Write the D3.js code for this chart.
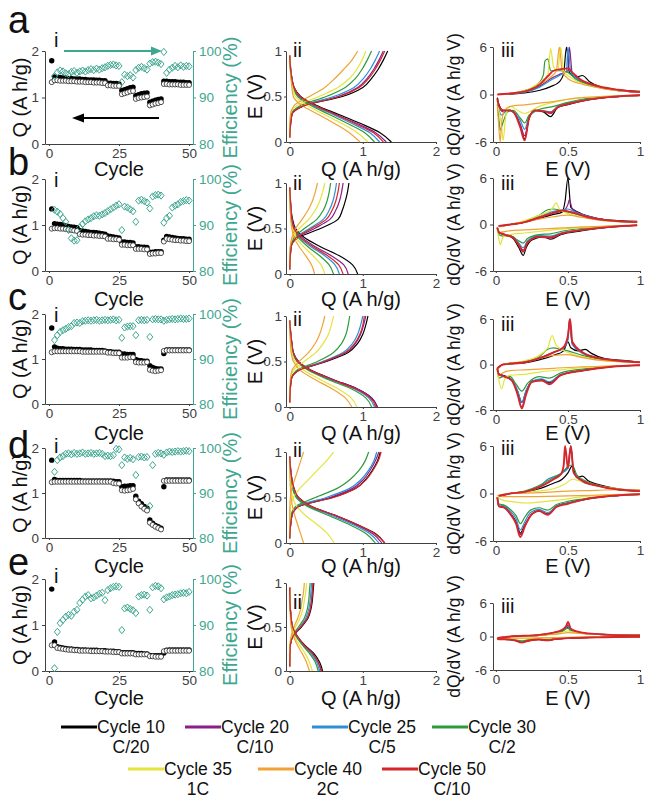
<!DOCTYPE html>
<html><head><meta charset="utf-8">
<script src="https://cdn.jsdelivr.net/npm/d3@7"></script>
<style>body{margin:0;background:#fff}svg{display:block}</style>
</head><body><svg id="c" width="646" height="800"></svg>
<script>
// ---------- DATA ----------
const cycleTicks = [0, 25, 50];
const capTicks = [0, 1, 2];
const effTicks = [80, 90, 100];
const qTicks = [0, 1, 2];
const eTicks = [0, 0.5, 1];
const dqTicks = [-6, 0, 6];
const legendCycles = ["Cycle 10","Cycle 20","Cycle 25","Cycle 30","Cycle 35","Cycle 40","Cycle 50"];
const legendRates = ["C/20","C/10","C/5","C/2","1C","2C","C/10"];

// panel i (cycles 1..50): discharge (filled), charge (open), efficiency (%)
const capDisA = [1.79,1.44,1.43,1.43,1.42,1.42,1.41,1.41,1.40,1.40,1.40,1.39,1.39,1.38,1.38,1.38,1.37,1.37,1.36,1.36,1.31,1.31,1.30,1.30,1.29,1.15,1.17,1.19,1.21,1.22,1.04,1.06,1.08,1.09,1.10,0.90,0.92,0.94,0.96,0.97,1.35,1.35,1.34,1.34,1.34,1.33,1.33,1.33,1.32,1.32];
const capChgA = [1.33,1.37,1.37,1.36,1.36,1.36,1.35,1.35,1.35,1.34,1.34,1.34,1.33,1.33,1.33,1.32,1.32,1.32,1.31,1.31,1.26,1.26,1.25,1.25,1.25,1.07,1.09,1.11,1.13,1.14,0.97,0.99,1.00,1.01,1.02,0.83,0.85,0.87,0.88,0.90,1.29,1.29,1.28,1.28,1.28,1.28,1.27,1.27,1.27,1.27];
const effA = [null,94.6,95.4,95.8,95.6,95.2,95.0,95.5,95.7,95.3,95.6,95.8,95.6,95.9,96.1,95.9,96.2,96.0,96.3,96.5,96.8,97.0,97.1,96.9,96.8,93.3,94.9,94.6,94.8,94.3,95.9,96.4,96.6,96.3,96.0,97.3,97.6,97.7,97.5,97.2,99.8,95.3,96.0,96.4,96.8,96.5,96.9,96.6,96.8,96.7];

const capDisB = [1.35,1.03,1.02,1.01,1.00,0.98,0.97,0.96,0.95,0.94,0.88,0.87,0.86,0.85,0.84,0.84,0.83,0.82,0.81,0.80,0.76,0.75,0.74,0.73,0.72,0.63,0.63,0.62,0.62,0.61,0.53,0.53,0.52,0.52,0.51,0.41,0.41,0.42,0.42,0.42,0.67,0.75,0.74,0.73,0.72,0.71,0.70,0.70,0.69,0.69];
const capChgB = [0.92,0.93,0.93,0.92,0.92,0.91,0.90,0.89,0.88,0.87,0.80,0.79,0.79,0.78,0.78,0.77,0.77,0.76,0.76,0.75,0.70,0.70,0.69,0.69,0.68,0.57,0.57,0.56,0.56,0.56,0.48,0.48,0.48,0.47,0.47,0.37,0.38,0.38,0.39,0.39,0.64,0.70,0.69,0.68,0.67,0.67,0.66,0.66,0.65,0.65];
const effB = [null,93.3,92.9,92.4,91.5,90.7,88.9,87.1,86.6,86.7,89.5,90.2,90.8,91.2,91.5,91.9,92.1,92.0,92.3,92.6,93.0,93.4,93.8,94.2,94.5,88.9,94.0,93.8,93.4,93.0,90.7,95.3,95.5,95.2,94.9,93.6,96.2,96.5,96.6,96.4,90.5,91.5,92.0,93.8,94.2,94.5,95.0,95.2,95.4,95.3];

const capDisC = [1.69,1.27,1.24,1.23,1.23,1.22,1.22,1.22,1.21,1.21,1.21,1.20,1.20,1.20,1.20,1.19,1.19,1.19,1.19,1.18,1.16,1.16,1.15,1.15,1.15,1.11,1.11,1.10,1.10,1.10,0.99,0.97,0.96,0.95,0.95,0.85,0.81,0.79,0.78,0.78,1.12,1.20,1.20,1.20,1.20,1.20,1.20,1.20,1.20,1.20];
const capChgC = [1.15,1.17,1.17,1.17,1.17,1.17,1.17,1.17,1.17,1.17,1.17,1.16,1.16,1.16,1.16,1.16,1.16,1.16,1.16,1.16,1.14,1.14,1.13,1.13,1.13,1.03,1.03,1.03,1.04,1.04,0.93,0.92,0.92,0.92,0.93,0.76,0.74,0.73,0.74,0.75,1.18,1.19,1.19,1.19,1.19,1.19,1.19,1.19,1.19,1.19];
const effC = [null,94.2,95.3,96.0,96.4,96.7,97.1,97.3,98.0,98.1,98.0,98.4,98.5,98.6,98.5,98.6,98.7,98.5,98.6,98.7,98.6,98.7,98.8,98.6,98.7,94.7,97.0,97.2,97.3,97.3,95.3,98.6,98.7,98.6,98.7,94.9,98.8,98.9,98.8,98.8,98.5,98.7,98.8,98.9,98.8,98.9,99.0,98.9,98.9,99.0];

const capDisD = [1.73,1.30,1.28,1.28,1.28,1.28,1.28,1.28,1.28,1.28,1.28,1.27,1.27,1.27,1.27,1.27,1.27,1.27,1.27,1.27,1.27,1.27,1.26,1.25,1.25,1.14,1.15,1.15,1.16,1.16,0.93,0.82,0.76,0.70,0.66,0.40,0.33,0.28,0.25,0.22,1.14,1.29,1.29,1.29,1.29,1.29,1.29,1.29,1.29,1.29];
const capChgD = [1.24,1.25,1.25,1.25,1.25,1.25,1.25,1.25,1.25,1.25,1.25,1.25,1.25,1.25,1.25,1.25,1.25,1.25,1.25,1.25,1.25,1.25,1.22,1.21,1.21,1.06,1.05,1.06,1.07,1.09,0.86,0.77,0.70,0.65,0.61,0.34,0.29,0.25,0.22,0.19,1.27,1.27,1.27,1.27,1.27,1.27,1.27,1.27,1.27,1.27];
const effD = [null,94.7,97.3,97.9,98.2,98.7,98.8,98.6,98.9,98.7,98.8,99.0,98.7,98.8,98.9,98.7,98.8,98.9,98.7,98.2,98.3,98.2,98.4,99.8,99.7,96.2,97.9,97.6,97.8,97.5,94.0,98.0,98.1,97.9,98.0,87.1,96.2,98.7,98.9,98.8,98.5,99.0,99.2,99.1,99.2,99.3,99.2,99.3,99.4,99.3];

const capDisE = [1.78,0.63,0.53,0.51,0.50,0.49,0.48,0.48,0.47,0.47,0.46,0.46,0.46,0.45,0.45,0.45,0.45,0.44,0.44,0.44,0.43,0.43,0.43,0.42,0.42,0.40,0.40,0.40,0.40,0.40,0.38,0.38,0.38,0.37,0.37,0.34,0.33,0.33,0.33,0.33,0.39,0.45,0.46,0.46,0.46,0.46,0.46,0.46,0.46,0.46];
const capChgE = [0.56,0.56,0.50,0.49,0.48,0.47,0.46,0.46,0.45,0.45,0.44,0.44,0.44,0.44,0.43,0.43,0.43,0.43,0.43,0.42,0.42,0.42,0.41,0.41,0.41,0.38,0.38,0.38,0.38,0.38,0.36,0.36,0.36,0.36,0.36,0.32,0.32,0.31,0.31,0.31,0.43,0.44,0.44,0.44,0.44,0.44,0.44,0.44,0.44,0.44];
const effE = [null,80.6,88.5,90.4,91.1,91.8,92.2,92.0,92.9,93.3,94.8,95.5,96.2,96.5,95.8,96.0,96.4,96.8,97.0,95.4,97.6,98.0,98.3,98.4,98.3,88.9,93.6,93.8,93.5,93.2,92.6,96.2,96.5,96.6,96.4,93.3,98.2,98.5,98.4,98.0,95.6,96.0,96.2,96.5,96.6,96.7,96.9,97.0,96.9,97.2];

// panel ii: Q (A h/g) at given potential levels, per cycle (10,20,25,30,35,40,50)
const disLevels = [0.95,0.7,0.6,0.5,0.4,0.3,0.2,0.1,0];
const chgLevels = [0.05,0.3,0.4,0.5,0.6,0.7,0.8,0.9,1.0];
const vqDisA = [[0,0.03,0.06,0.15,0.37,0.68,0.98,1.24,1.39],[0,0.03,0.06,0.14,0.35,0.64,0.93,1.18,1.32],[0,0.03,0.05,0.12,0.32,0.6,0.86,1.1,1.23],[0,0.02,0.05,0.11,0.29,0.55,0.8,1.03,1.16],[0,0.02,0.04,0.08,0.24,0.48,0.72,0.93,1.07],[0,0.02,0.03,0.05,0.17,0.4,0.62,0.82,0.96],[0,0.03,0.06,0.14,0.35,0.63,0.9,1.15,1.28]];
const vqChgA = [[0,0.03,0.2,0.72,1.0,1.12,1.21,1.28,1.34],[0,0.03,0.2,0.66,0.93,1.06,1.15,1.22,1.28],[0,0.02,0.18,0.6,0.88,1.01,1.1,1.17,1.23],[0,0.02,0.15,0.5,0.76,0.9,0.99,1.06,1.12],[0,0.01,0.1,0.4,0.66,0.82,0.92,0.99,1.04],[0,0.01,0.06,0.27,0.48,0.62,0.74,0.85,0.93],[0,0.03,0.2,0.68,0.95,1.08,1.17,1.24,1.30]];
const vqDisB = [[0,0.02,0.04,0.08,0.2,0.42,0.68,0.86,0.93],[0,0.02,0.03,0.07,0.17,0.35,0.57,0.74,0.80],[0,0.02,0.03,0.06,0.14,0.29,0.48,0.62,0.68],[0,0.01,0.02,0.05,0.12,0.25,0.41,0.54,0.60],[0,0.01,0.02,0.04,0.09,0.19,0.32,0.43,0.48],[0,0.01,0.015,0.03,0.06,0.13,0.22,0.3,0.34],[0,0.02,0.03,0.06,0.15,0.32,0.52,0.67,0.73]];
const vqChgB = [[0,0.02,0.12,0.42,0.66,0.72,0.76,0.79,0.81],[0,0.02,0.1,0.34,0.55,0.63,0.68,0.71,0.73],[0,0.02,0.08,0.27,0.46,0.54,0.59,0.62,0.64],[0,0.01,0.06,0.2,0.37,0.46,0.51,0.54,0.56],[0,0.01,0.04,0.13,0.26,0.35,0.41,0.45,0.48],[0,0.01,0.03,0.08,0.17,0.25,0.31,0.35,0.38],[0,0.02,0.09,0.3,0.5,0.58,0.63,0.66,0.68]];
const vqDisC = [[0,0.03,0.05,0.12,0.3,0.6,0.92,1.12,1.2],[0,0.03,0.05,0.12,0.3,0.6,0.92,1.12,1.2],[0,0.03,0.05,0.11,0.28,0.56,0.88,1.08,1.16],[0,0.02,0.04,0.1,0.26,0.53,0.84,1.04,1.12],[0,0.02,0.03,0.07,0.2,0.42,0.66,0.84,0.92],[0,0.01,0.02,0.05,0.15,0.35,0.58,0.76,0.85],[0,0.03,0.05,0.11,0.29,0.58,0.9,1.1,1.18]];
const vqChgC = [[0,0.02,0.12,0.5,0.8,0.93,1.0,1.04,1.07],[0,0.02,0.12,0.48,0.77,0.9,0.97,1.01,1.04],[0,0.02,0.11,0.45,0.73,0.86,0.93,0.97,1.0],[0,0.02,0.09,0.38,0.6,0.71,0.77,0.8,0.82],[0,0.01,0.05,0.2,0.36,0.46,0.53,0.57,0.6],[0,0.01,0.03,0.13,0.26,0.35,0.41,0.45,0.48],[0,0.02,0.12,0.47,0.76,0.89,0.96,1.0,1.02]];
const vqDisD = [[0,0.03,0.06,0.12,0.3,0.64,0.93,1.18,1.30],[0,0.03,0.05,0.11,0.29,0.62,0.9,1.14,1.26],[0,0.03,0.05,0.1,0.27,0.58,0.87,1.1,1.22],[0,0.02,0.04,0.09,0.25,0.54,0.82,1.05,1.17],[0,0.01,0.02,0.04,0.1,0.22,0.38,0.52,0.61],[0,0.005,0.01,0.02,0.04,0.07,0.11,0.15,0.19],[0,0.03,0.06,0.12,0.3,0.64,0.93,1.17,1.30]];
const vqChgD = [[0,0.03,0.12,0.58,0.9,1.04,1.13,1.2,1.24],[0,0.03,0.11,0.55,0.86,1.01,1.1,1.17,1.22],[0,0.03,0.1,0.5,0.82,0.98,1.08,1.15,1.19],[0,0.02,0.08,0.35,0.65,0.83,0.95,1.03,1.08],[0,0.005,0.01,0.05,0.14,0.26,0.38,0.5,0.6],[0,0.001,0.003,0.01,0.03,0.07,0.11,0.15,0.19],[0,0.03,0.12,0.6,0.9,1.05,1.14,1.21,1.25]];
const vqDisE = [[0,0.01,0.02,0.04,0.1,0.2,0.33,0.41,0.45],[0,0.01,0.02,0.04,0.1,0.19,0.31,0.39,0.43],[0,0.01,0.02,0.04,0.09,0.18,0.29,0.37,0.41],[0,0.01,0.02,0.03,0.08,0.17,0.27,0.35,0.39],[0,0.01,0.015,0.03,0.06,0.13,0.21,0.27,0.31],[0,0.005,0.01,0.02,0.05,0.1,0.17,0.23,0.27],[0,0.01,0.02,0.04,0.1,0.19,0.31,0.39,0.44]];
const vqChgE = [[0,0.01,0.05,0.16,0.25,0.29,0.31,0.32,0.33],[0,0.01,0.05,0.15,0.24,0.28,0.30,0.31,0.32],[0,0.01,0.04,0.14,0.22,0.26,0.28,0.29,0.30],[0,0.01,0.04,0.12,0.2,0.24,0.26,0.27,0.28],[0,0.005,0.03,0.08,0.14,0.18,0.2,0.22,0.23],[0,0.005,0.02,0.06,0.11,0.15,0.17,0.19,0.2],[0,0.01,0.05,0.15,0.24,0.28,0.3,0.31,0.32]];

// panel iii: [E (V), dQ/dV] for charge (positive) and discharge (negative) branches
const dqPosA = [
 [[0.01,0],[0.2,0.2],[0.3,0.5],[0.38,1.0],[0.44,1.6],[0.47,2.6],[0.49,6],[0.51,2.8],[0.56,2.2],[0.6,2.4],[0.65,1.6],[0.72,1.0],[0.85,0.6],[1,0.4]],
 [[0.01,0],[0.2,0.3],[0.3,1.0],[0.38,2.0],[0.45,2.6],[0.5,3.0],[0.51,6],[0.53,2.6],[0.6,1.6],[0.7,1.0],[0.85,0.5],[1,0.3]],
 [[0.01,0],[0.2,0.3],[0.3,0.9],[0.38,1.8],[0.45,2.5],[0.49,3.0],[0.5,6],[0.52,2.8],[0.6,1.6],[0.7,1.0],[0.85,0.5],[1,0.3]],
 [[0.01,0],[0.2,0.5],[0.3,1.5],[0.33,2.5],[0.34,4.2],[0.36,4.5],[0.38,3.0],[0.45,3.0],[0.5,2.8],[0.55,2.0],[0.65,1.2],[0.8,0.6],[1,0.3]],
 [[0.01,0],[0.2,0.5],[0.3,1.5],[0.36,2.5],[0.38,5.8],[0.4,3.5],[0.43,3.0],[0.45,6],[0.47,3.0],[0.55,1.8],[0.65,1.1],[0.8,0.6],[1,0.3]],
 [[0.01,0],[0.2,0.4],[0.3,1.2],[0.38,2.2],[0.42,3.0],[0.44,6],[0.46,3.0],[0.5,2.0],[0.6,1.3],[0.7,0.9],[0.85,0.5],[1,0.3]],
 [[0.01,0],[0.2,0.4],[0.3,1.2],[0.36,2.3],[0.4,3.0],[0.45,3.2],[0.5,3.3],[0.53,2.8],[0.58,2.0],[0.68,1.2],[0.85,0.6],[1,0.3]]];
const dqNegA = [
 [[1,-0.1],[0.8,-0.3],[0.6,-0.8],[0.5,-1.3],[0.43,-1.6],[0.38,-2.8],[0.33,-2.2],[0.27,-2.0],[0.23,-3.0],[0.2,-5.6],[0.17,-4.0],[0.13,-2.4],[0.1,-2.0],[0.05,-2.0],[0.02,-1.2],[0.01,-0.4]],
 [[1,-0.1],[0.8,-0.3],[0.6,-0.8],[0.5,-1.2],[0.43,-1.6],[0.38,-2.4],[0.33,-2.1],[0.27,-2.0],[0.23,-3.0],[0.2,-5.2],[0.17,-3.8],[0.13,-2.3],[0.1,-2.0],[0.05,-2.2],[0.02,-1.5],[0.01,-0.6]],
 [[1,-0.1],[0.8,-0.3],[0.6,-0.7],[0.5,-1.1],[0.43,-1.5],[0.38,-2.2],[0.3,-2.0],[0.23,-2.8],[0.2,-4.4],[0.17,-3.3],[0.12,-2.2],[0.08,-2.0],[0.04,-2.6],[0.02,-1.8],[0.01,-0.8]],
 [[1,-0.1],[0.8,-0.3],[0.6,-0.6],[0.5,-1.0],[0.4,-1.5],[0.3,-1.9],[0.23,-2.6],[0.2,-3.6],[0.17,-3.0],[0.12,-2.0],[0.08,-2.2],[0.05,-3.5],[0.03,-4.5],[0.02,-3.0],[0.01,-1.2]],
 [[1,-0.1],[0.8,-0.2],[0.6,-0.4],[0.5,-0.6],[0.4,-1.0],[0.3,-1.5],[0.2,-2.4],[0.15,-2.0],[0.1,-1.5],[0.07,-2.5],[0.05,-5.8],[0.04,-4.0],[0.02,-2.0],[0.01,-0.8]],
 [[1,-0.1],[0.8,-0.2],[0.6,-0.4],[0.5,-0.6],[0.4,-0.9],[0.3,-1.1],[0.2,-1.3],[0.1,-1.5],[0.06,-2.0],[0.04,-3.5],[0.03,-6],[0.02,-4.0],[0.01,-1.5]],
 [[1,-0.1],[0.8,-0.3],[0.6,-0.8],[0.5,-1.2],[0.43,-1.6],[0.38,-2.3],[0.33,-2.1],[0.27,-2.0],[0.23,-3.0],[0.2,-5.8],[0.17,-4.2],[0.13,-2.4],[0.1,-2.0],[0.05,-2.0],[0.02,-1.4],[0.01,-0.5]]];

const dqPosB = [
 [[0.02,-0.2],[0.1,0],[0.2,0.3],[0.3,0.8],[0.4,1.3],[0.46,1.6],[0.48,3.0],[0.5,6],[0.52,2.2],[0.58,1.5],[0.7,0.8],[0.85,0.5],[0.98,0.4]],
 [[0.02,-0.2],[0.1,0],[0.2,0.3],[0.3,0.8],[0.4,1.5],[0.47,1.8],[0.5,2.6],[0.51,3.2],[0.53,2.0],[0.6,1.3],[0.7,0.8],[0.85,0.4],[0.98,0.3]],
 [[0.02,-0.2],[0.1,0],[0.2,0.3],[0.3,1.0],[0.4,1.7],[0.47,1.9],[0.5,2.0],[0.55,1.6],[0.65,1.0],[0.8,0.5],[0.98,0.3]],
 [[0.02,-0.2],[0.1,0],[0.2,0.4],[0.3,1.2],[0.36,1.9],[0.4,2.0],[0.45,1.8],[0.5,1.6],[0.6,1.1],[0.75,0.6],[0.98,0.3]],
 [[0.02,-0.3],[0.1,0],[0.2,0.5],[0.3,1.2],[0.38,1.8],[0.42,2.8],[0.44,2.0],[0.5,1.4],[0.6,1.0],[0.75,0.5],[0.98,0.3]],
 [[0.02,-0.2],[0.1,0],[0.2,0.3],[0.3,0.7],[0.4,1.0],[0.5,1.2],[0.6,0.9],[0.75,0.5],[0.98,0.3]],
 [[0.02,-0.2],[0.1,0],[0.2,0.3],[0.3,0.9],[0.4,1.5],[0.46,1.8],[0.5,1.7],[0.56,1.4],[0.65,0.9],[0.8,0.5],[0.98,0.3]]];
const dqNegB = [
 [[0.98,-0.1],[0.8,-0.3],[0.6,-0.8],[0.45,-1.3],[0.38,-1.9],[0.33,-1.6],[0.25,-2.0],[0.21,-3.0],[0.19,-4.0],[0.16,-3.0],[0.12,-1.8],[0.06,-1.3],[0.02,-1.0],[0.01,-0.4]],
 [[0.98,-0.1],[0.8,-0.3],[0.6,-0.7],[0.45,-1.2],[0.38,-1.6],[0.3,-1.5],[0.22,-2.2],[0.19,-3.3],[0.16,-2.6],[0.12,-1.6],[0.06,-1.3],[0.02,-1.0],[0.01,-0.4]],
 [[0.98,-0.1],[0.8,-0.3],[0.6,-0.7],[0.45,-1.1],[0.38,-1.5],[0.3,-1.4],[0.22,-2.1],[0.19,-3.0],[0.16,-2.4],[0.12,-1.6],[0.06,-1.3],[0.02,-1.0],[0.01,-0.4]],
 [[0.98,-0.1],[0.8,-0.2],[0.6,-0.5],[0.45,-0.9],[0.38,-1.2],[0.3,-1.3],[0.22,-1.8],[0.19,-2.4],[0.15,-2.0],[0.1,-1.5],[0.05,-1.5],[0.02,-1.3],[0.01,-0.5]],
 [[0.98,-0.1],[0.8,-0.2],[0.6,-0.4],[0.45,-0.6],[0.3,-0.9],[0.2,-1.1],[0.1,-1.3],[0.05,-1.6],[0.03,-2.6],[0.02,-1.8],[0.01,-0.6]],
 [[0.98,-0.1],[0.8,-0.2],[0.6,-0.3],[0.4,-0.5],[0.2,-0.7],[0.1,-0.8],[0.03,-1.0],[0.01,-0.4]],
 [[0.98,-0.1],[0.8,-0.3],[0.6,-0.7],[0.45,-1.2],[0.38,-1.7],[0.3,-1.6],[0.22,-2.3],[0.19,-3.5],[0.16,-2.7],[0.12,-1.7],[0.06,-1.3],[0.02,-1.0],[0.01,-0.4]]];

const dqPosC = [
 [[0.01,-0.5],[0.05,0],[0.2,0.2],[0.3,0.6],[0.4,1.2],[0.47,1.8],[0.5,3.0],[0.52,2.2],[0.57,1.8],[0.62,2.0],[0.66,1.5],[0.75,0.8],[0.9,0.5],[1,0.3]],
 [[0.01,-0.5],[0.05,0],[0.2,0.3],[0.3,0.8],[0.4,1.6],[0.47,2.2],[0.5,3.5],[0.51,6],[0.53,2.8],[0.6,1.6],[0.7,0.9],[0.85,0.5],[1,0.3]],
 [[0.01,-0.5],[0.05,0],[0.2,0.3],[0.3,0.8],[0.4,1.6],[0.47,2.2],[0.5,3.2],[0.51,5.5],[0.53,2.6],[0.6,1.5],[0.7,0.9],[0.85,0.5],[1,0.3]],
 [[0.01,-0.5],[0.05,0],[0.2,0.4],[0.3,1.0],[0.36,2.0],[0.4,2.2],[0.45,2.0],[0.5,1.8],[0.6,1.2],[0.75,0.6],[1,0.3]],
 [[0.01,-0.8],[0.05,0],[0.2,0.5],[0.3,1.2],[0.36,2.2],[0.39,3.8],[0.42,2.5],[0.5,1.6],[0.6,1.0],[0.75,0.5],[1,0.3]],
 [[0.01,-0.5],[0.05,0],[0.2,0.3],[0.3,0.8],[0.4,1.2],[0.5,1.3],[0.6,0.9],[0.75,0.5],[1,0.3]],
 [[0.01,-0.5],[0.05,0],[0.2,0.3],[0.3,0.8],[0.4,1.6],[0.47,2.3],[0.5,3.8],[0.515,6],[0.53,3.0],[0.6,1.6],[0.7,0.9],[0.85,0.5],[1,0.3]]];
const dqNegC = [
 [[1,-0.1],[0.8,-0.3],[0.6,-0.8],[0.45,-1.4],[0.37,-2.4],[0.32,-2.0],[0.25,-2.2],[0.21,-3.5],[0.18,-5.0],[0.15,-3.5],[0.11,-2.0],[0.06,-1.5],[0.02,-1.2],[0.01,-0.5]],
 [[1,-0.1],[0.8,-0.3],[0.6,-0.8],[0.45,-1.4],[0.37,-2.6],[0.32,-2.1],[0.25,-2.3],[0.21,-3.8],[0.18,-5.6],[0.15,-3.8],[0.11,-2.1],[0.06,-1.6],[0.02,-1.3],[0.01,-0.5]],
 [[1,-0.1],[0.8,-0.3],[0.6,-0.8],[0.45,-1.3],[0.37,-2.3],[0.32,-1.9],[0.25,-2.2],[0.21,-3.4],[0.18,-5.0],[0.15,-3.4],[0.11,-2.0],[0.06,-1.6],[0.02,-1.3],[0.01,-0.5]],
 [[1,-0.1],[0.8,-0.3],[0.6,-0.6],[0.45,-1.1],[0.37,-1.8],[0.3,-1.6],[0.22,-2.5],[0.18,-3.5],[0.14,-2.6],[0.1,-1.6],[0.05,-1.6],[0.02,-1.8],[0.01,-0.7]],
 [[1,-0.1],[0.8,-0.2],[0.6,-0.4],[0.45,-0.7],[0.3,-1.0],[0.2,-1.3],[0.1,-1.4],[0.06,-2.0],[0.04,-3.2],[0.02,-2.0],[0.01,-0.8]],
 [[1,-0.1],[0.8,-0.2],[0.6,-0.3],[0.4,-0.5],[0.2,-0.7],[0.1,-0.8],[0.04,-1.2],[0.02,-1.5],[0.01,-0.6]],
 [[1,-0.1],[0.8,-0.3],[0.6,-0.8],[0.45,-1.4],[0.37,-2.6],[0.32,-2.1],[0.25,-2.3],[0.21,-3.9],[0.18,-5.8],[0.15,-3.9],[0.11,-2.1],[0.06,-1.6],[0.02,-1.3],[0.01,-0.5]]];

const dqPosD = [
 [[0.02,-0.3],[0.1,0],[0.2,0.2],[0.3,0.6],[0.4,1.3],[0.46,1.8],[0.5,2.6],[0.53,3.5],[0.56,2.0],[0.6,2.2],[0.64,1.6],[0.7,1.2],[0.85,0.6],[1,0.4]],
 [[0.02,-0.3],[0.1,0],[0.2,0.2],[0.3,0.8],[0.4,1.8],[0.45,2.5],[0.48,3.0],[0.5,3.5],[0.52,6],[0.54,2.6],[0.6,1.6],[0.7,1.0],[0.85,0.5],[1,0.3]],
 [[0.02,-0.3],[0.1,0],[0.2,0.2],[0.3,0.8],[0.36,1.8],[0.4,2.1],[0.46,2.6],[0.5,3.2],[0.52,6],[0.54,2.6],[0.6,1.5],[0.7,1.0],[0.85,0.5],[1,0.3]],
 [[0.02,-0.3],[0.1,0],[0.2,0.3],[0.3,1.0],[0.36,1.6],[0.42,2.2],[0.47,2.8],[0.5,3.4],[0.53,3.6],[0.56,2.4],[0.62,1.6],[0.72,1.0],[0.85,0.5],[1,0.3]],
 [[0.02,-0.2],[0.1,0],[0.3,0.3],[0.4,0.6],[0.48,1.2],[0.53,1.8],[0.58,1.6],[0.7,1.0],[0.85,0.6],[1,0.4]],
 [[0.02,-0.2],[0.1,0],[0.3,0.1],[0.5,0.3],[0.7,0.4],[0.85,0.5],[1,0.4]],
 [[0.02,-0.3],[0.1,0],[0.2,0.2],[0.3,0.8],[0.4,1.8],[0.45,2.4],[0.47,3.5],[0.48,6],[0.5,3.2],[0.52,6],[0.54,2.6],[0.6,1.6],[0.7,1.0],[0.85,0.5],[1,0.3]]];
const dqNegD = [
 [[1,-0.1],[0.8,-0.3],[0.6,-0.8],[0.5,-1.2],[0.42,-1.6],[0.36,-2.6],[0.3,-2.2],[0.25,-2.6],[0.2,-4.0],[0.17,-5.0],[0.14,-3.6],[0.1,-2.5],[0.06,-1.8],[0.02,-1.6],[0.01,-0.5]],
 [[1,-0.1],[0.8,-0.3],[0.6,-0.8],[0.5,-1.2],[0.42,-1.6],[0.36,-2.6],[0.3,-2.2],[0.25,-2.6],[0.2,-4.1],[0.17,-5.2],[0.14,-3.7],[0.1,-2.5],[0.06,-1.8],[0.02,-1.6],[0.01,-0.5]],
 [[1,-0.1],[0.8,-0.3],[0.6,-0.8],[0.5,-1.2],[0.42,-1.6],[0.36,-2.4],[0.3,-2.0],[0.24,-2.4],[0.2,-3.6],[0.17,-4.6],[0.14,-3.2],[0.1,-2.2],[0.06,-1.6],[0.02,-1.4],[0.01,-0.5]],
 [[1,-0.1],[0.8,-0.3],[0.6,-0.7],[0.5,-1.0],[0.42,-1.4],[0.36,-2.1],[0.3,-1.8],[0.24,-2.1],[0.2,-3.0],[0.17,-3.8],[0.14,-2.8],[0.1,-2.0],[0.06,-1.5],[0.02,-1.3],[0.01,-0.5]],
 [[1,-0.1],[0.8,-0.2],[0.6,-0.4],[0.45,-0.8],[0.35,-1.0],[0.2,-1.2],[0.1,-1.0],[0.04,-0.8],[0.01,-0.4]],
 [[1,-0.05],[0.8,-0.15],[0.5,-0.3],[0.2,-0.4],[0.05,-0.4],[0.01,-0.2]],
 [[1,-0.1],[0.8,-0.3],[0.6,-0.8],[0.5,-1.3],[0.42,-1.7],[0.36,-2.7],[0.3,-2.2],[0.25,-2.6],[0.2,-4.2],[0.17,-5.5],[0.14,-3.8],[0.1,-2.6],[0.06,-1.8],[0.02,-1.6],[0.01,-0.5]]];

const dqPosE = [
 [[0.01,-0.3],[0.1,0],[0.3,0.2],[0.4,0.5],[0.46,0.9],[0.5,1.6],[0.52,1.0],[0.6,0.6],[0.8,0.3],[1,0.2]],
 [[0.01,-0.3],[0.1,0],[0.3,0.2],[0.4,0.6],[0.46,1.0],[0.5,2.0],[0.52,1.1],[0.6,0.6],[0.8,0.3],[1,0.2]],
 [[0.01,-0.3],[0.1,0],[0.3,0.2],[0.4,0.6],[0.46,1.0],[0.5,1.8],[0.52,1.0],[0.6,0.6],[0.8,0.3],[1,0.2]],
 [[0.01,-0.3],[0.1,0],[0.3,0.3],[0.4,0.7],[0.46,1.0],[0.5,1.5],[0.53,0.9],[0.6,0.6],[0.8,0.3],[1,0.2]],
 [[0.01,-0.2],[0.1,0],[0.3,0.2],[0.4,0.5],[0.47,0.8],[0.5,1.0],[0.55,0.7],[0.7,0.4],[1,0.2]],
 [[0.01,-0.2],[0.1,0],[0.3,0.2],[0.45,0.5],[0.5,0.7],[0.6,0.5],[0.8,0.3],[1,0.2]],
 [[0.01,-0.3],[0.1,0],[0.3,0.3],[0.4,0.7],[0.46,1.2],[0.49,2.0],[0.5,2.6],[0.52,1.4],[0.6,0.7],[0.8,0.3],[1,0.2]]];
const dqNegE = [
 [[1,-0.05],[0.7,-0.15],[0.5,-0.3],[0.4,-0.5],[0.36,-0.7],[0.3,-0.5],[0.22,-0.8],[0.18,-1.0],[0.13,-0.7],[0.06,-0.5],[0.02,-0.5],[0.01,-0.3]],
 [[1,-0.05],[0.7,-0.15],[0.5,-0.3],[0.4,-0.5],[0.36,-0.7],[0.3,-0.5],[0.22,-0.8],[0.18,-1.0],[0.13,-0.7],[0.06,-0.5],[0.02,-0.5],[0.01,-0.3]],
 [[1,-0.05],[0.7,-0.15],[0.5,-0.3],[0.4,-0.45],[0.36,-0.6],[0.3,-0.5],[0.22,-0.7],[0.18,-0.9],[0.13,-0.6],[0.06,-0.5],[0.02,-0.5],[0.01,-0.3]],
 [[1,-0.05],[0.7,-0.15],[0.5,-0.25],[0.4,-0.4],[0.36,-0.5],[0.3,-0.45],[0.22,-0.6],[0.18,-0.8],[0.13,-0.6],[0.06,-0.5],[0.02,-0.5],[0.01,-0.3]],
 [[1,-0.05],[0.7,-0.1],[0.5,-0.2],[0.3,-0.3],[0.2,-0.4],[0.1,-0.4],[0.03,-0.5],[0.01,-0.3]],
 [[1,-0.05],[0.7,-0.1],[0.5,-0.15],[0.3,-0.25],[0.1,-0.3],[0.03,-0.4],[0.01,-0.2]],
 [[1,-0.05],[0.7,-0.15],[0.5,-0.3],[0.4,-0.5],[0.36,-0.7],[0.3,-0.55],[0.22,-0.8],[0.18,-1.1],[0.13,-0.7],[0.06,-0.5],[0.02,-0.5],[0.01,-0.3]]];

// ---------- STYLE / LAYOUT ----------
const FONT = '"Liberation Sans", Arial, Helvetica, sans-serif';
const AX = "#404040";
const TEAL = "#3ea790";
const cycleColors = ["#000000","#8a1f88","#2f8fd6","#2e9a3b","#e4e43c","#f0a334","#d6252b"];

const rows = [
 {letter:"a", ly:33,  i:[51,144],  ii:[51,142],  iii:[47,142],  iy:47,  iiy:57,  iiiy:57,  ty:176, dis:capDisA, chg:capChgA, eff:effA, vd:vqDisA, vc:vqChgA, dp:dqPosA, dn:dqNegA},
 {letter:"b", ly:175, i:[179,271], ii:[183,274], iii:[178,271], iy:187, iiy:190, iiiy:190, ty:306, dis:capDisB, chg:capChgB, eff:effB, vd:vqDisB, vc:vqChgB, dp:dqPosB, dn:dqNegB},
 {letter:"c", ly:310, i:[314,404], ii:[316,407], iii:[319,410], iy:322, iiy:326, iiiy:331, ty:440, dis:capDisC, chg:capChgC, eff:effC, vd:vqDisC, vc:vqChgC, dp:dqPosC, dn:dqNegC},
 {letter:"d", ly:458, i:[448,538], ii:[452,543], iii:[446,541], iy:453, iiy:457, iiiy:455, ty:573, dis:capDisD, chg:capChgD, eff:effD, vd:vqDisD, vc:vqChgD, dp:dqPosD, dn:dqNegD},
 {letter:"e", ly:575, i:[579,671], ii:[583,671], iii:[603,670], iy:583, iiy:609, iiiy:613, ty:705, dis:capDisE, chg:capChgE, eff:effE, vd:vqDisE, vc:vqChgE, dp:dqPosE, dn:dqNegE}
];

const svg = d3.select("#c");
svg.append("rect").attr("width",646).attr("height",800).attr("fill","#fff");

const fmt = d => String(d);
function styleAxis(g, color) {
  g.selectAll("path,line").attr("stroke", color).attr("stroke-width", 1);
  g.selectAll("text").attr("fill", color).attr("font-size", 13.5).attr("font-family", FONT);
}
function txt(g, x, y, s, size, opt = {}) {
  return g.append("text").attr("x", x).attr("y", y).text(s)
    .attr("font-family", FONT).attr("font-size", size).attr("fill", opt.fill || "#111")
    .attr("text-anchor", opt.anchor || "start");
}
function vtxt(g, cx, cy, s, size, fill) {
  g.append("text").attr("transform", `translate(${cx},${cy}) rotate(-90)`)
    .attr("text-anchor", "middle").attr("dy", "0.35em")
    .attr("font-family", FONT).attr("font-size", size).attr("fill", fill || "#111").text(s);
}

const diamond = "M0,-3.6L3,0L0,3.6L-3,0Z";

rows.forEach(r => {
  const g = svg.append("g");
  // ---- panel i ----
  const x = d3.scaleLinear([-1.4, 51.4], [45, 193]);
  const y = d3.scaleLinear([0, 2], [r.i[1], r.i[0]]);
  const ye = d3.scaleLinear([80, 100], [r.i[1], r.i[0]]);
  g.append("g").attr("transform", `translate(0,${r.i[1]})`)
    .call(d3.axisBottom(x).tickValues(cycleTicks).tickFormat(fmt).tickSize(2).tickPadding(2).tickSizeOuter(0)).call(styleAxis, AX);
  g.append("g").attr("transform", `translate(45,0)`)
    .call(d3.axisLeft(y).tickValues(capTicks).tickFormat(fmt).tickSize(3).tickPadding(3).tickSizeOuter(0)).call(styleAxis, AX);
  g.append("g").attr("transform", `translate(193,0)`)
    .call(d3.axisRight(ye).tickValues(effTicks).tickFormat(fmt).tickSize(3).tickPadding(3).tickSizeOuter(0)).call(styleAxis, TEAL);

  const disPts = r.dis.map((v, k) => [k + 1, v]).filter(d => d[1] != null);
  const chgPts = r.chg.map((v, k) => [k + 1, v]).filter(d => d[1] != null);
  const effPts = r.eff.map((v, k) => [k + 1, v]).filter(d => d[1] != null);
  g.append("g").selectAll("circle").data(disPts).join("circle")
    .attr("cx", d => x(d[0])).attr("cy", d => y(d[1])).attr("r", 2.7).attr("fill", "#000");
  g.append("g").selectAll("circle").data(chgPts).join("circle")
    .attr("cx", d => x(d[0])).attr("cy", d => y(d[1])).attr("r", 2.5)
    .attr("fill", "#fff").attr("stroke", "#222").attr("stroke-width", 0.8);
  g.append("g").selectAll("path").data(effPts).join("path")
    .attr("d", diamond).attr("transform", d => `translate(${x(d[0])},${ye(d[1])})`)
    .attr("fill", "none").attr("stroke", TEAL).attr("stroke-width", 1);

  txt(g, 8, r.ly, r.letter, 38);
  txt(g, 54, r.iy, "i", 20);
  txt(g, 119, r.ty, "Cycle", 20, {anchor: "middle"});
  vtxt(g, 20, (r.i[0] + r.i[1]) / 2, "Q (A h/g)", 20);
  vtxt(g, 230, (r.i[0] + r.i[1]) / 2, "Efficiency (%)", 20, TEAL);

  // ---- panel ii ----
  const x2 = d3.scaleLinear([-0.05, 2], [286, 436]);
  const y2 = d3.scaleLinear([0, 1], [r.ii[1], r.ii[0]]);
  g.append("g").attr("transform", `translate(0,${r.ii[1]})`)
    .call(d3.axisBottom(x2).tickValues(qTicks).tickFormat(fmt).tickSize(2).tickPadding(2).tickSizeOuter(0)).call(styleAxis, AX);
  g.append("g").attr("transform", `translate(286,0)`)
    .call(d3.axisLeft(y2).tickValues(eTicks).tickFormat(fmt).tickSize(2).tickPadding(2).tickSizeOuter(0)).call(styleAxis, AX);
  const line2 = d3.line().x(d => x2(d[0])).y(d => y2(d[1])).curve(d3.curveMonotoneY);
  r.vd.forEach((qs, ci) => {
    const dPts = qs.map((q, k) => [q, disLevels[k]]);
    const cPts = r.vc[ci].map((q, k) => [q, chgLevels[k]]);
    [dPts, cPts].forEach(p => g.append("path").attr("d", line2(p)).attr("fill", "none")
      .attr("stroke", cycleColors[ci]).attr("stroke-width", 1.2));
  });
  txt(g, 293, r.iiy, "ii", 20);
  txt(g, 361, r.ty, "Q (A h/g)", 20, {anchor: "middle"});
  vtxt(g, 255, (r.ii[0] + r.ii[1]) / 2, "E (V)", 20);

  // ---- panel iii ----
  const x3 = d3.scaleLinear([-0.02, 1], [493, 640]);
  const y3 = d3.scaleLinear([-6, 6], [r.iii[1], r.iii[0]]);
  g.append("g").attr("transform", `translate(0,${r.iii[1]})`)
    .call(d3.axisBottom(x3).tickValues(eTicks).tickFormat(fmt).tickSize(2).tickPadding(2).tickSizeOuter(0)).call(styleAxis, AX);
  g.append("g").attr("transform", `translate(493,0)`)
    .call(d3.axisLeft(y3).tickValues(dqTicks).tickFormat(fmt).tickSize(3).tickPadding(3).tickSizeOuter(0)).call(styleAxis, AX);
  const line3 = d3.line().x(d => x3(d[0])).y(d => y3(d[1])).curve(d3.curveMonotoneX);
  r.dp.forEach((pos, ci) => {
    const sw = ci === 6 ? 1.9 : 1.2;
    [pos, r.dn[ci]].forEach(p => g.append("path").attr("d", line3(p)).attr("fill", "none")
      .attr("stroke", cycleColors[ci]).attr("stroke-width", sw));
  });
  txt(g, 501, r.iiiy, "iii", 20);
  txt(g, 568, r.ty, "E (V)", 20, {anchor: "middle"});
  vtxt(g, 454, (r.iii[0] + r.iii[1]) / 2, "dQ/dV (A h/g V)", 17.5);
});

// rate-direction arrows in panel a(i)
const ar = svg.append("g");
ar.append("line").attr("x1", 64).attr("x2", 153).attr("y1", 51).attr("y2", 51).attr("stroke", TEAL).attr("stroke-width", 2);
ar.append("path").attr("d", "M162,51L151,46.5L151,55.5Z").attr("fill", TEAL);
ar.append("line").attr("x1", 159).attr("x2", 82).attr("y1", 118).attr("y2", 118).attr("stroke", "#000").attr("stroke-width", 2);
ar.append("path").attr("d", "M72,118L84,113.5L84,122.5Z").attr("fill", "#000");

// ---------- LEGEND ----------
const legPos = [[61,727],[185,727],[312,727],[432,727],[128,769],[258,769],[382,769]];
const lg = svg.append("g");
legendCycles.forEach((name, k) => {
  const [lx, ly] = legPos[k];
  lg.append("line").attr("x1", lx).attr("x2", lx + 36).attr("y1", ly).attr("y2", ly)
    .attr("stroke", cycleColors[k]).attr("stroke-width", 3);
  const t = txt(lg, lx + 36, ly + 6, name, 17.5);
  const w = t.node().getComputedTextLength();
  txt(lg, lx + 36 + w / 2, ly + 26, legendRates[k], 17.5, {anchor: "middle"});
});
</script></body></html>
